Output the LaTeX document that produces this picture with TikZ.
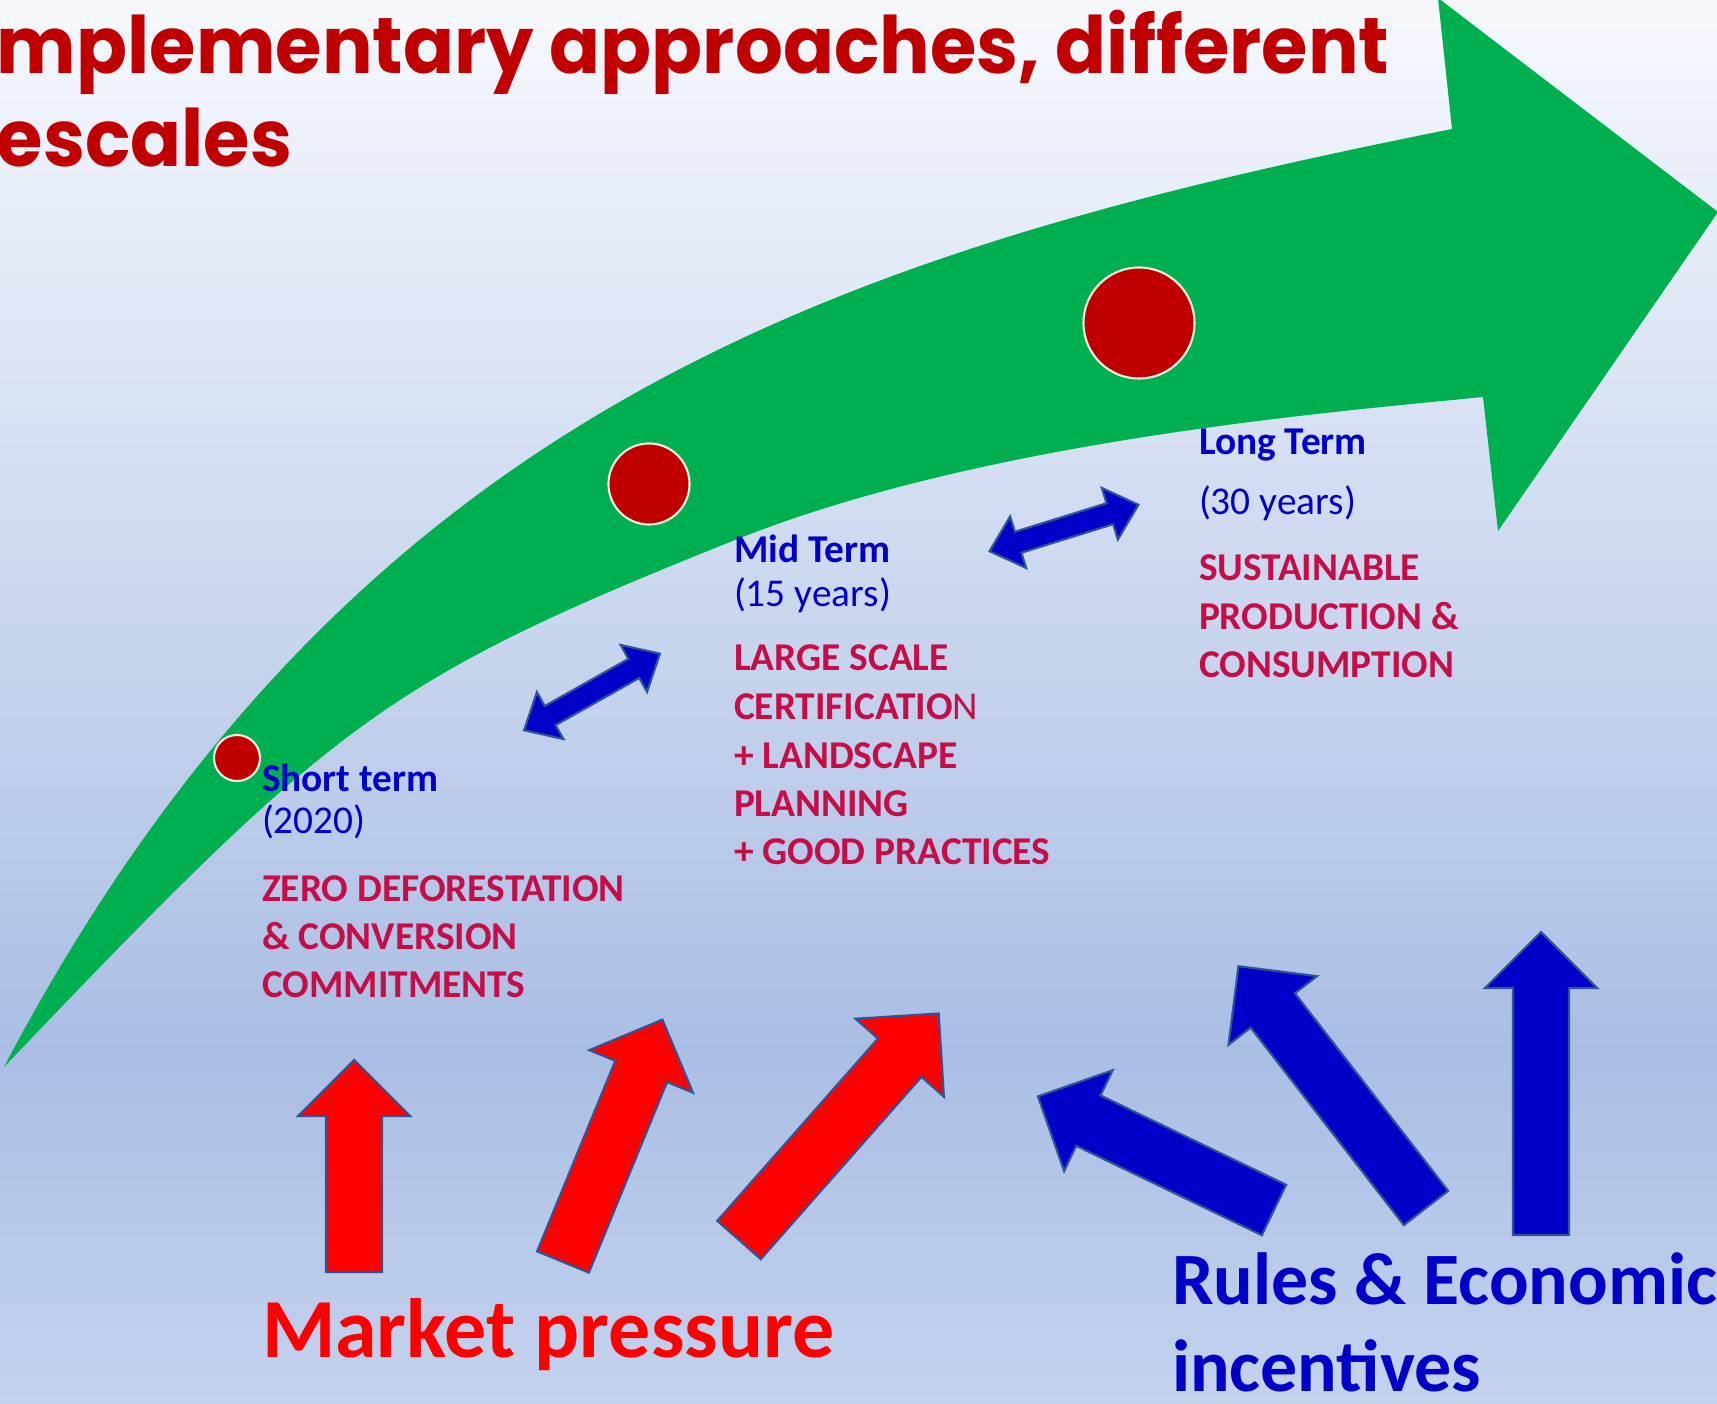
\documentclass[tikz,border=0pt]{standalone}
\usepackage{fontspec}
\setmainfont{Carlito}
\newfontfamily\titlefont[FakeStretch=0.95]{Poppins}

\definecolor{titlered}{RGB}{192,0,0}
\definecolor{arrowgreen}{RGB}{0,176,80}
\definecolor{dotred}{RGB}{192,0,0}
\definecolor{dotrim}{RGB}{242,238,230}
\definecolor{headblue}{RGB}{0,0,200}
\definecolor{bodycrimson}{RGB}{197,14,72}
\definecolor{edgeblue}{RGB}{47,85,151}
\definecolor{pushred}{RGB}{255,0,0}
\definecolor{pushblue}{RGB}{0,0,200}
\definecolor{bgtop}{RGB}{246,248,253}
\definecolor{bgmid}{RGB}{170,190,228}
\definecolor{bgbot}{RGB}{196,210,237}

\tikzset{
  titletext/.style={anchor=base west, text=titlered, font=\titlefont\bfseries\fontsize{22.5}{26}\selectfont},
  termhead/.style={anchor=base west, text=headblue, font=\bfseries\fontsize{11.2}{13}\selectfont},
  termyear/.style={anchor=base west, text=headblue, font=\fontsize{11.2}{13}\selectfont},
  termbody/.style={anchor=base west, text=bodycrimson, font=\bfseries\fontsize{11.2}{13}\selectfont},
  dot/.style={circle, fill=dotred, draw=dotrim, line width=0.6pt},
  dblarrow/.style={fill=pushblue, draw=edgeblue, line width=0.6pt, line join=miter},
  redpush/.style={fill=pushred, draw=edgeblue, line width=0.6pt},
  bluepush/.style={fill=pushblue, draw=edgeblue, line width=0.6pt},
}

\begin{document}
\begin{tikzpicture}[x=0.01cm, y=-0.01cm, every node/.style={inner sep=0pt, outer sep=0pt}]
    \useasboundingbox (0,0) rectangle (1717,1404);
    \clip (0,0) rectangle (1717,1404);

    % Background
    \shade[top color=bgtop, bottom color=bgmid] (0,0) rectangle (1717,1050);
    \shade[top color=bgmid, bottom color=bgbot] (0,1050) rectangle (1717,1404);

    % Draw the big curved arrow
    \fill[arrowgreen] (4,1067) .. controls (354,402) and (852,249) .. (1452,129)
        -- (1438,-2) -- (1718,212) -- (1498,531) -- (1483,397)
        .. controls (1333,412) and (985,440) .. (735,540)
        .. controls (385,680) and (334,721) .. (4,1067) -- cycle;

    % Milestones on the arrow
    \node[dot, minimum size=0.46cm] (dotshort) at (237,758) {};
    \node[dot, minimum size=0.81cm] (dotmid) at (649,484) {};
    \node[dot, minimum size=1.11cm] (dotlong) at (1139,323) {};

    % Draw the double arrows between the terms
    \begin{scope}[shift={(592,692)}, rotate=29.4]
        \draw[dblarrow] (-78,0) -- (-78+30,-27) -- (-78+30,-11) -- (78-30,-11) -- (78-30,-27) -- (78,0)
            -- (78-30,27) -- (78-30,11) -- (-78+30,11) -- (-78+30,27) -- cycle;
    \end{scope}
    \begin{scope}[shift={(1064,528)}, rotate=17.3]
        \draw[dblarrow] (-78,0) -- (-78+30,-27) -- (-78+30,-11) -- (78-30,-11) -- (78-30,-27) -- (78,0)
            -- (78-30,27) -- (78-30,11) -- (-78+30,11) -- (-78+30,27) -- cycle;
    \end{scope}

    % Title
    \node[titletext] (title1) at (-3,74) {mplementary approaches, different};
    \node[titletext] (title2) at (-3,167) {escales};

    % Short term
    \node[termhead] (short1) at (262,792) {Short term};
    \node[termyear] (short2) at (262,834) {(2020)};
    \node[termbody] (short3) at (262,902) {ZERO DEFORESTATION};
    \node[termbody] (short4) at (262,950) {\& CONVERSION};
    \node[termbody] (short5) at (262,998) {COMMITMENTS};

    % Mid term
    \node[termhead] (mid1) at (734,563) {Mid Term};
    \node[termyear] (mid2) at (734,607) {(15 years)};
    \node[termbody] (mid3) at (734,671) {LARGE SCALE};
    \node[termbody] (mid4) at (734,720) {CERTIFICATIO\textmd{N}};
    \node[termbody] (mid5) at (734,769) {+ LANDSCAPE};
    \node[termbody] (mid6) at (734,817) {PLANNING};
    \node[termbody] (mid7) at (734,865) {+ GOOD PRACTICES};

    % Long term
    \node[termhead] (long1) at (1199,455) {Long Term};
    \node[termyear] (long2) at (1199,515) {(30 years)};
    \node[termbody] (long3) at (1199,581) {SUSTAINABLE};
    \node[termbody] (long4) at (1199,630) {PRODUCTION \&};
    \node[termbody] (long5) at (1199,678) {CONSUMPTION};

    % Draw the red arrows (market side)
    \begin{scope}[shift={(354,1272)}, rotate=90]
        \draw[redpush] (0,-28) -- (212-56,-28) -- (212-56,-56) -- (212,0) -- (212-56,56) -- (212-56,28) -- (0,28) -- cycle;
    \end{scope}
    \begin{scope}[shift={(563,1262)}, rotate=67.7]
        \draw[redpush] (0,-28) -- (262-56,-28) -- (262-56,-56) -- (262,0) -- (262-56,56) -- (262-56,28) -- (0,28) -- cycle;
    \end{scope}
    \begin{scope}[shift={(739,1240)}, rotate=48.6]
        \draw[redpush] (0,-29) -- (302-59,-29) -- (302-59,-59) -- (302,0) -- (302-59,59) -- (302-59,29) -- (0,29) -- cycle;
    \end{scope}

    % Draw the blue arrows (rules side)
    \begin{scope}[shift={(1274,1210)}, rotate=154.3]
        \draw[bluepush] (0,-28) -- (262-56,-28) -- (262-56,-56) -- (262,0) -- (262-56,56) -- (262-56,28) -- (0,28) -- cycle;
    \end{scope}
    \begin{scope}[shift={(1426,1208)}, rotate=127.8]
        \draw[bluepush] (0,-28) -- (306-56,-28) -- (306-56,-56) -- (306,0) -- (306-56,56) -- (306-56,28) -- (0,28) -- cycle;
    \end{scope}
    \begin{scope}[shift={(1541,1235)}, rotate=90]
        \draw[bluepush] (0,-28) -- (303-56,-28) -- (303-56,-56) -- (303,0) -- (303-56,56) -- (303-56,28) -- (0,28) -- cycle;
    \end{scope}

    % Labels under the arrows
    \node[anchor=base west, text=pushred, font=\bfseries\fontsize{23.9}{28}\selectfont] (market) at (262,1358) {Market pressure};
    \node[anchor=base west, text=pushblue, font=\bfseries\fontsize{21}{25}\selectfont] (rules1) at (1172,1305) {Rules \& Economic};
    \node[anchor=base west, text=pushblue, font=\bfseries\fontsize{21}{25}\selectfont] (rules2) at (1172,1392) {incentives};

\end{tikzpicture}
\end{document}
